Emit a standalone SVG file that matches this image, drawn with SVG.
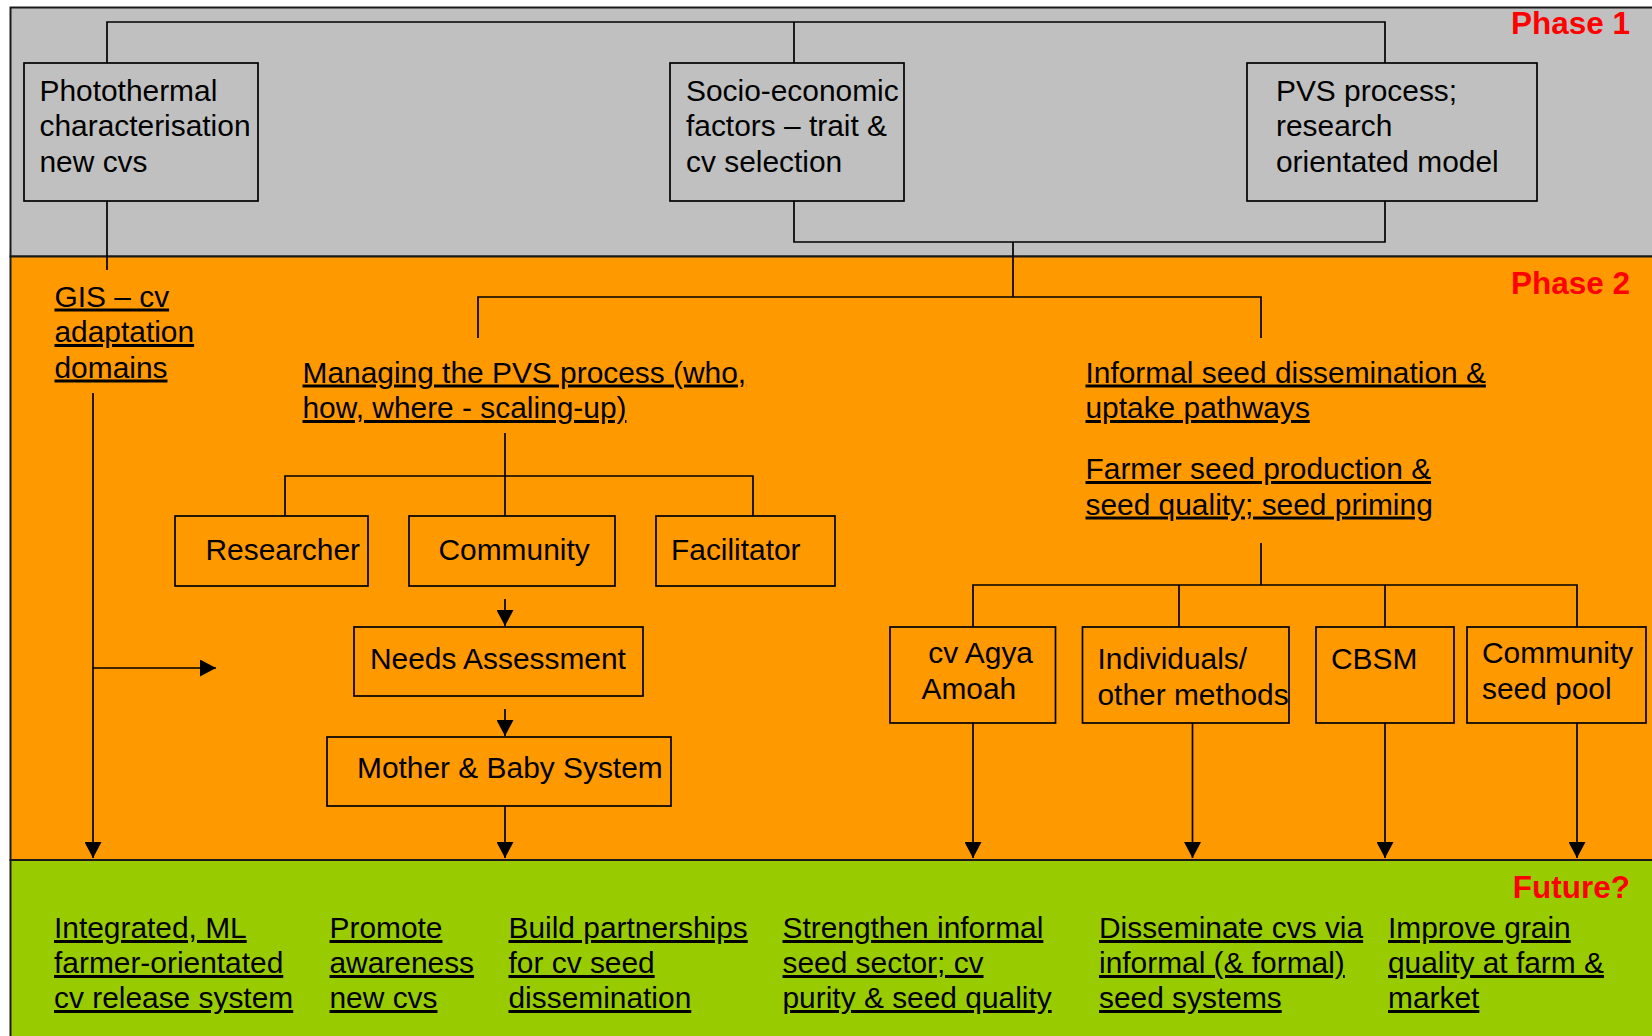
<svg xmlns="http://www.w3.org/2000/svg" width="1652" height="1036" viewBox="0 0 1652 1036">
<style>
.t{font-family:"Liberation Sans",Arial,sans-serif;font-size:29.9px;fill:#000}
.u{text-decoration:underline}
.ph{font-family:"Liberation Sans",Arial,sans-serif;font-size:31.5px;font-weight:bold;fill:#FF0000;text-anchor:end}
.box{stroke:#000;stroke-width:1.7}
.g{fill:#C0C0C0}
.o{fill:#FF9900}
.c{fill:none;stroke:#000;stroke-width:1.7}
.band{stroke:#1a1a1a;stroke-width:2}
</style>
<defs>
<marker id="ah" viewBox="0 0 16 17" refX="16" refY="8.5" markerWidth="16" markerHeight="17" markerUnits="userSpaceOnUse" orient="auto">
<path d="M0,0 L16,8.5 L0,17 z" fill="#000"/>
</marker>
</defs>
<rect width="1652" height="1036" fill="#fff"/>
<g id="bands">
<rect x="10.5" y="7.5" width="1650" height="249" fill="#C0C0C0" class="band"/>
<rect x="10.5" y="256.5" width="1650" height="603.5" fill="#FF9900" class="band"/>
<rect x="10.5" y="860" width="1650" height="190" fill="#99CC00" class="band"/>
<text class="ph" x="1630" y="34">Phase 1</text>
<text class="ph" x="1630" y="294">Phase 2</text>
<text class="ph" x="1630" y="898">Future?</text>
</g>
<g id="connectors" class="c">
<path d="M107,63 V22 H1385 V63 M794,22 V63"/>
<path d="M107,201 V270"/>
<path d="M794,201 V242 H1385 V201 M1013,242 V297"/>
<path d="M478,338 V297 H1261 V338"/>
<path d="M93,393 V858" marker-end="url(#ah)"/>
<path d="M93,668 H216" marker-end="url(#ah)"/>
<path d="M505,433 V476 M285,516 V476 H753 V516 M505,476 V516"/>
<path d="M505,599 V626" marker-end="url(#ah)"/>
<path d="M505,709 V736" marker-end="url(#ah)"/>
<path d="M505,806 V858" marker-end="url(#ah)"/>
<path d="M1261,543 V585 M973,627 V585 H1577 V627 M1179,585 V627 M1385,585 V627"/>
<path d="M973,723 V858" marker-end="url(#ah)"/>
<path d="M1192.5,723 V858" marker-end="url(#ah)"/>
<path d="M1385,723 V858" marker-end="url(#ah)"/>
<path d="M1577,723 V858" marker-end="url(#ah)"/>
</g>
<g id="photothermal">
<rect class="box g" x="24" y="63" width="234" height="138"/>
<text class="t" x="39.5" y="100.5">Photothermal</text>
<text class="t" x="39.5" y="136">characterisation</text>
<text class="t" x="39.5" y="171.5">new cvs</text>
</g>
<g id="socio">
<rect class="box g" x="670" y="63" width="234" height="138"/>
<text class="t" x="686" y="100.5">Socio-economic</text>
<text class="t" x="686" y="136">factors – trait &amp;</text>
<text class="t" x="686" y="171.5">cv selection</text>
</g>
<g id="pvs">
<rect class="box g" x="1247" y="63" width="290" height="138"/>
<text class="t" x="1276" y="100.5">PVS process;</text>
<text class="t" x="1276" y="136">research</text>
<text class="t" x="1276" y="171.5">orientated model</text>
</g>
<g id="gis">
<text class="t u" x="54.5" y="306.5">GIS – cv</text>
<text class="t u" x="54.5" y="342">adaptation</text>
<text class="t u" x="54.5" y="377.5">domains</text>
</g>
<g id="managing">
<text class="t u" x="302.5" y="382.5">Managing the PVS process (who,</text>
<text class="t u" x="302.5" y="418">how, where - scaling-up)</text>
</g>
<g id="informal">
<text class="t u" x="1085.5" y="382.5">Informal seed dissemination &amp;</text>
<text class="t u" x="1085.5" y="418">uptake pathways</text>
</g>
<g id="farmer">
<text class="t u" x="1085.5" y="479">Farmer seed production &amp;</text>
<text class="t u" x="1085.5" y="514.5">seed quality; seed priming</text>
</g>
<g id="researcher">
<rect class="box o" x="175" y="516" width="193" height="70"/>
<text class="t" x="205.5" y="560">Researcher</text>
</g>
<g id="community">
<rect class="box o" x="409" y="516" width="206" height="70"/>
<text class="t" x="438.5" y="560">Community</text>
</g>
<g id="facilitator">
<rect class="box o" x="656" y="516" width="179" height="70"/>
<text class="t" x="671" y="560">Facilitator</text>
</g>
<g id="needs">
<rect class="box o" x="354" y="627" width="289" height="69"/>
<text class="t" x="370" y="669">Needs Assessment</text>
</g>
<g id="mother">
<rect class="box o" x="327" y="737" width="344" height="69"/>
<text class="t" x="357" y="778">Mother &amp; Baby System</text>
</g>
<g id="agya">
<rect class="box o" x="890" y="627" width="165.5" height="96"/>
<text class="t" x="928.3" y="663.3">cv Agya</text>
<text class="t" x="921.5" y="699">Amoah</text>
</g>
<g id="individuals">
<rect class="box o" x="1082.5" y="627" width="206.5" height="96"/>
<text class="t" x="1097.5" y="669">Individuals/</text>
<text class="t" x="1097.5" y="705">other methods</text>
</g>
<g id="cbsm">
<rect class="box o" x="1316" y="627" width="138" height="96"/>
<text class="t" x="1331" y="669">CBSM</text>
</g>
<g id="seedpool">
<rect class="box o" x="1467" y="627" width="179" height="96"/>
<text class="t" x="1482" y="663.3">Community</text>
<text class="t" x="1482" y="699">seed pool</text>
</g>
<g id="future1">
<text class="t u" x="54" y="938">Integrated, ML</text>
<text class="t u" x="54" y="973">farmer-orientated</text>
<text class="t u" x="54" y="1008">cv release system</text>
</g>
<g id="future2">
<text class="t u" x="329.5" y="938">Promote</text>
<text class="t u" x="329.5" y="973">awareness</text>
<text class="t u" x="329.5" y="1008">new cvs</text>
</g>
<g id="future3">
<text class="t u" x="508.5" y="938">Build partnerships</text>
<text class="t u" x="508.5" y="973">for cv seed</text>
<text class="t u" x="508.5" y="1008">dissemination</text>
</g>
<g id="future4">
<text class="t u" x="782.5" y="938">Strengthen informal</text>
<text class="t u" x="782.5" y="973">seed sector; cv</text>
<text class="t u" x="782.5" y="1008">purity &amp; seed quality</text>
</g>
<g id="future5">
<text class="t u" x="1099" y="938">Disseminate cvs via</text>
<text class="t u" x="1099" y="973">informal (&amp; formal)</text>
<text class="t u" x="1099" y="1008">seed systems</text>
</g>
<g id="future6">
<text class="t u" x="1388" y="938">Improve grain</text>
<text class="t u" x="1388" y="973">quality at farm &amp;</text>
<text class="t u" x="1388" y="1008">market</text>
</g>
</svg>
